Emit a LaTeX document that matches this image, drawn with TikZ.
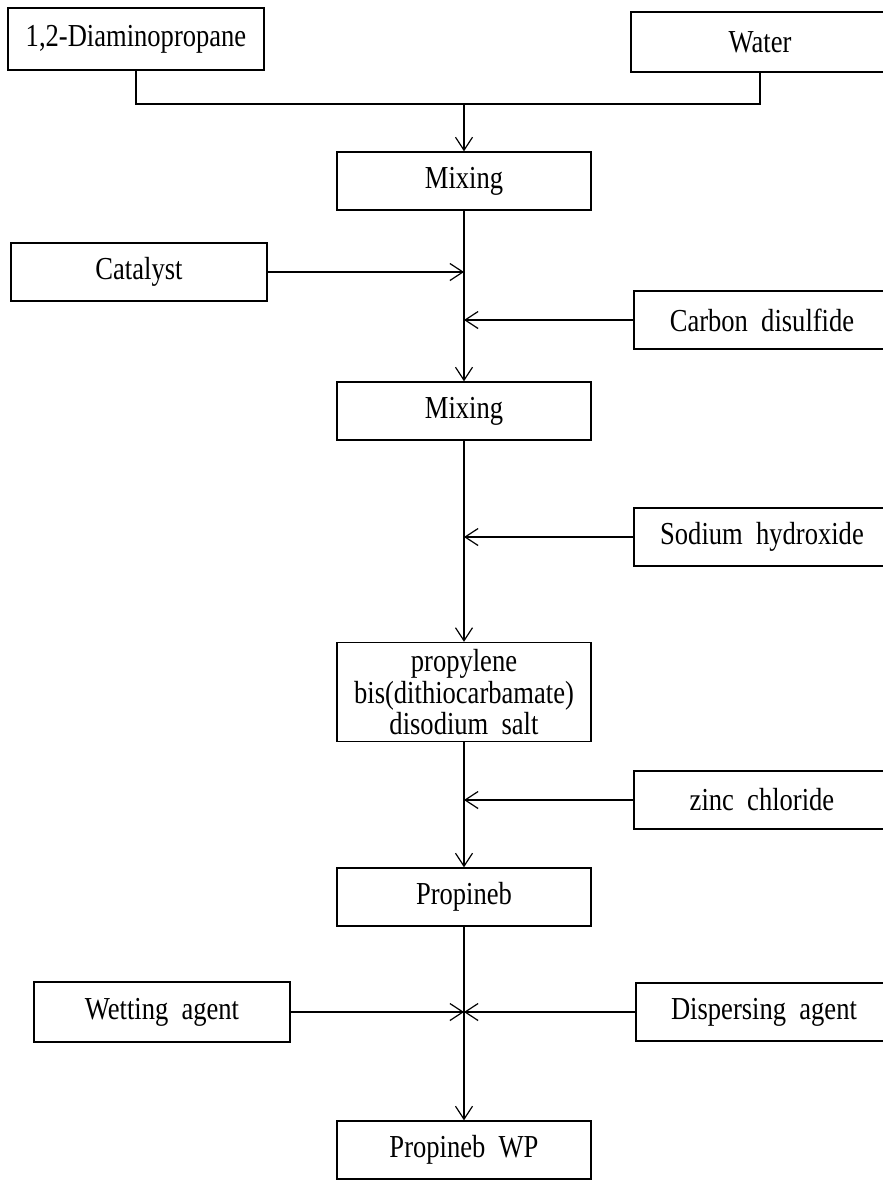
\documentclass[tikz,border=0pt]{standalone}
\usepackage{fontspec}
\setmainfont{Liberation Serif}[FakeStretch=0.83]
\usetikzlibrary{arrows.meta}

\begin{document}
\begin{tikzpicture}[x=0.5pt,y=-0.5pt,>={Straight Barb[length=6.5pt,width=8.5pt]},
  line width=0.6pt,
  box node/.style={draw,rectangle,line width=0.7pt,minimum width=127pt,minimum height=29pt,
    inner sep=0pt,align=center,font=\fontsize{16}{14}\selectfont}]

  \useasboundingbox (0,0) rectangle (883,1180);
  \clip (0,0) rectangle (883,1180);

  \node[box node,minimum width=128pt,minimum height=31pt] (dia) at (136,39) {1,2-Diaminopropane};
  \node[box node,minimum width=129pt,minimum height=30pt] (water) at (760,42) {Water};
  \node[box node] (mix1) at (464,181) {Mixing};
  \node[box node,minimum width=128pt] (cat) at (139,272) {Catalyst};
  \node[box node,minimum width=128pt] (cs2) at (762,320) {Carbon~~disulfide};
  \node[box node] (mix2) at (464,411) {Mixing};
  \node[box node,minimum width=128pt] (naoh) at (762,537) {Sodium~~hydroxide};
  \node[box node,minimum height=49.5pt] (salt) at (464,692) {propylene\\bis(dithiocarbamate)\\disodium~~salt};
  \node[box node,minimum width=128pt] (zncl) at (762,800) {zinc~~chloride};
  \node[box node] (prop) at (464,897) {Propineb};
  \node[box node,minimum width=128pt,minimum height=30pt] (wet) at (162,1012) {Wetting~~agent};
  \node[box node,minimum width=128pt] (disp) at (764,1012) {Dispersing~~agent};
  \node[box node] (wp) at (464,1150) {Propineb~~WP};

  \coordinate (j0) at (464,104);
  \coordinate (j1) at (464,272);
  \coordinate (j2) at (464,320);
  \coordinate (j3) at (464,537);
  \coordinate (j4) at (464,800);
  \coordinate (j5) at (464,1012);

  \draw (dia.south) |- (j0) -| (water.south);

  \path[->]
    (j0) edge (mix1)
    (mix1) edge (mix2)
    (cat) edge (j1)
    (cs2) edge (j2)
    (mix2) edge (salt)
    (naoh) edge (j3)
    (salt) edge (prop)
    (zncl) edge (j4)
    (prop) edge (wp)
    (wet) edge (j5)
    (disp) edge (j5);
\end{tikzpicture}
\end{document}
